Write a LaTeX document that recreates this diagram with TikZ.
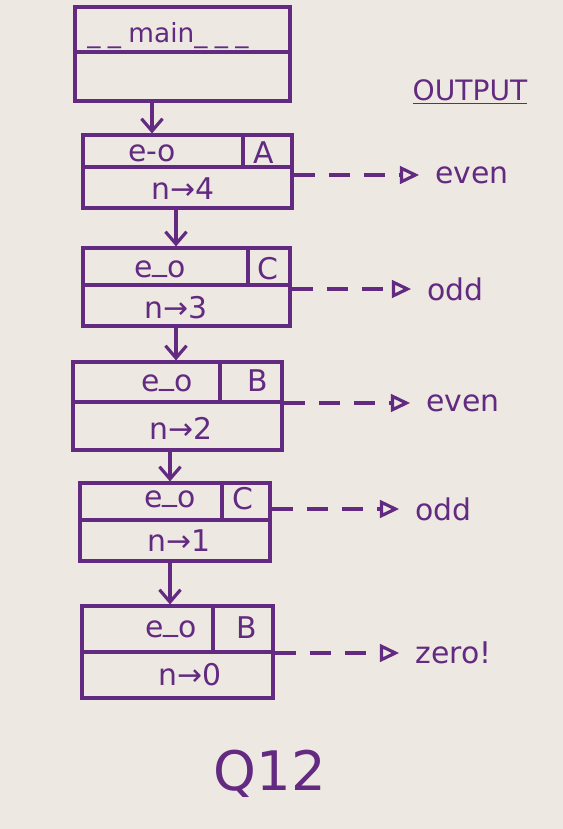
\documentclass[tikz,border=0pt]{standalone}
\usepackage{fontspec}
\setmainfont{DejaVu Sans}
\usetikzlibrary{positioning,calc,arrows.meta}
\definecolor{ink}{RGB}{98,42,128}
\definecolor{paper}{RGB}{237,232,225}
\newcommand{\eo}{e\raisebox{0.22em}{\_}o}

\begin{document}
\begin{tikzpicture}[x=0.02cm,y=-0.02cm,
		cell/.style={draw=ink,line width=1.8pt,rectangle,inner sep=0pt},
		word/.style={text=ink,font=\fontsize{17}{19}\selectfont,inner sep=0pt,text depth=0pt},
		call/.style={draw=ink,line width=1.8pt,-{Straight Barb[length=7pt,width=12pt]}},
		ret/.style={draw=ink,line width=1.8pt,dash pattern=on 12pt off 8pt,-{Triangle[open,length=11pt,width=10pt]},shorten >=9pt}]
		\fill[paper] (0,0) rectangle (563,829);
		% main
		\node[cell,minimum width=4.3cm,minimum height=0.9cm] (mt) at (182.5,29.5) {};
		\node[cell,minimum width=4.3cm,minimum height=0.98cm] (mb) at (182.5,76.5) {};
		\node[word,font=\fontsize{15}{17}\selectfont] (mn) at (168,32) {\_\;\_\;main\_\;\_\;\_};
		\node[word,font=\fontsize{16}{18}\selectfont] (outp) at (470,90) {\underline{OUTPUT}};
		% n=4
		\node[cell,minimum width=3.2cm,minimum height=0.64cm] (f1l) at (163,151) {};
		\node[cell,minimum width=0.98cm,minimum height=0.64cm] (f1k) at (267.5,151) {};
		\node[cell,minimum width=4.18cm,minimum height=0.82cm] (f1b) at (187.5,187.5) {};
		\node[word] (f1e) at (152,153) {e-o};
		\node[word] (f1c) at (264,153) {A};
		\node[word] (f1n) at (183,189) {n→4};
		\node[word,anchor=west] (f1o) at (435,175) {even};
		% n=3
		\node[cell,minimum width=3.3cm,minimum height=0.74cm] (f2l) at (165.5,266.5) {};
		\node[cell,minimum width=0.84cm,minimum height=0.74cm] (f2k) at (269,266.5) {};
		\node[cell,minimum width=4.14cm,minimum height=0.82cm] (f2b) at (186.5,305.5) {};
		\node[word] (f2e) at (160,269) {\eo};
		\node[word] (f2c) at (268,268) {C};
		\node[word] (f2n) at (176,307) {n→3};
		\node[word,anchor=west] (f2o) at (427,289) {odd};
		% n=2
		\node[cell,minimum width=2.94cm,minimum height=0.8cm] (f3l) at (146.5,382) {};
		\node[cell,minimum width=1.24cm,minimum height=0.8cm] (f3k) at (251,382) {};
		\node[cell,minimum width=4.18cm,minimum height=0.96cm] (f3b) at (177.5,426) {};
		\node[word] (f3e) at (167,383) {\eo};
		\node[word] (f3c) at (258,381) {B};
		\node[word] (f3n) at (181,428) {n→2};
		\node[word,anchor=west] (f3o) at (426,403) {even};
		% n=1
		\node[cell,minimum width=2.84cm,minimum height=0.74cm] (f4l) at (151,501.5) {};
		\node[cell,minimum width=0.96cm,minimum height=0.74cm] (f4k) at (246,501.5) {};
		\node[cell,minimum width=3.8cm,minimum height=0.82cm] (f4b) at (175,540.5) {};
		\node[word] (f4e) at (170,499) {\eo};
		\node[word] (f4c) at (243,498) {C};
		\node[word] (f4n) at (179,541) {n→1};
		\node[word,anchor=west] (f4o) at (415,509) {odd};
		% n=0
		\node[cell,minimum width=2.62cm,minimum height=0.92cm] (f5l) at (147.5,629) {};
		\node[cell,minimum width=1.2cm,minimum height=0.92cm] (f5k) at (243,629) {};
		\node[cell,minimum width=3.82cm,minimum height=0.92cm] (f5b) at (177.5,675) {};
		\node[word] (f5e) at (171,629) {\eo};
		\node[word] (f5c) at (247,628) {B};
		\node[word] (f5n) at (190,674) {n→0};
		\node[word,anchor=west] (f5o) at (415,653) {zero!};
		\node[word,font=\fontsize{31}{34}\selectfont] (qn) at (270,770) {Q12};
		% calls
		\draw[call] (mb.south -| f1e) -- (f1l.north -| f1e);
		\draw[call] (f1b.south -| f2n) -- (f2l.north -| f2n);
		\draw[call] (f2b.south -| f2n) -- (f3l.north -| f2n);
		\draw[call] (f3b.south -| f4e) -- (f4l.north -| f4e);
		\draw[call] (f4b.south -| f4e) -- (f5l.north -| f4e);
		% output
		\draw[ret] (f1b.east |- f1o) -- (f1o.west);
		\draw[ret] (f2b.east |- f2o) -- (f2o.west);
		\draw[ret] (f3b.east |- f3o) -- (f3o.west);
		\draw[ret] (f4b.east |- f4o) -- (f4o.west);
		\draw[ret] (f5b.east |- f5o) -- (f5o.west);
	\end{tikzpicture}
\end{document}
